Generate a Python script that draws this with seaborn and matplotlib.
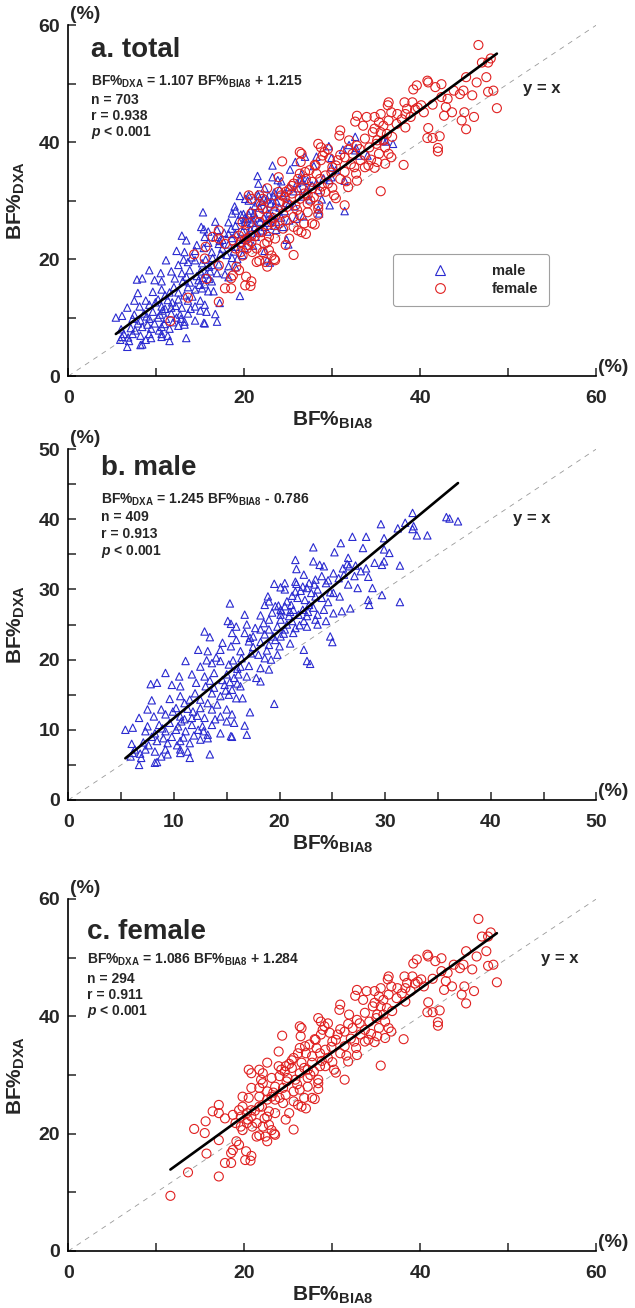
import matplotlib
matplotlib.use("Agg")
import matplotlib.pyplot as plt
import seaborn as sns
from matplotlib.lines import Line2D
from matplotlib.ticker import MultipleLocator

# male: BF% by BIA8 (x) and BF% by DXA (y)
male_bia8 = [
    32.6, 35.8, 36.1, 36.9, 31.9, 29.6, 32.7, 32.6, 33.0, 34.0, 31.2, 26.9, 28.2, 29.9, 23.2, 25.8,
    29.9, 30.4, 27.9, 25.2, 21.5, 26.5, 29.7, 29.9, 31.4, 23.2, 23.8, 24.2, 26.4, 26.6, 27.2, 28.2,
    21.6, 25.1, 22.3, 26.1, 27.1, 28.4, 24.0, 23.4, 21.5, 20.5, 19.5, 21.6, 22.8, 24.4, 26.5, 27.4,
    28.8, 29.7, 20.1, 20.5, 21.5, 22.2, 23.0, 23.6, 25.1, 25.7, 21.7, 22.4, 23.4, 18.9, 28.4, 28.5,
    31.4, 24.6, 22.8, 19.0, 15.3, 18.6, 19.6, 20.5, 21.1, 20.1, 21.3, 22.2, 23.2, 26.7, 25.9, 24.2,
    25.1, 19.3, 20.1, 20.9, 21.8, 22.6, 23.6, 16.7, 18.2, 19.0, 20.1, 21.2, 22.3, 23.4, 24.4, 15.1,
    15.4, 15.9, 16.9, 17.7, 18.2, 19.0, 19.8, 20.5, 21.5, 22.6, 23.6, 21.3, 15.5, 16.7, 17.5, 18.6,
    19.4, 20.1, 24.8, 12.9, 13.4, 14.6, 15.9, 17.1, 18.2, 19.0, 20.0, 21.0, 22.3, 25.0, 14.4, 15.4,
    16.3, 17.3, 18.0, 18.6, 19.2, 19.8, 12.3, 13.2, 11.1, 12.5, 13.6, 14.4, 15.2, 16.3, 17.1, 18.2,
    19.0, 22.6, 22.9, 9.2, 10.5, 11.7, 12.9, 13.8, 15.0, 15.7, 16.9, 17.8, 8.4, 7.8, 9.8, 10.6,
    12.1, 13.0, 13.8, 14.8, 15.5, 16.3, 18.2, 13.6, 14.4, 15.2, 15.9, 16.5, 7.9, 9.6, 10.6, 11.5,
    12.5, 13.2, 19.5, 7.5, 8.8, 10.2, 11.3, 12.5, 13.6, 15.0, 17.2, 6.7, 8.1, 9.2, 10.6, 11.7,
    12.9, 14.4, 15.5, 7.5, 8.6, 9.6, 10.7, 11.7, 12.7, 13.6, 15.0, 15.7, 16.7, 5.4, 6.1, 7.3,
    8.2, 9.2, 10.2, 11.1, 12.3, 13.2, 14.4, 15.4, 16.9, 6.0, 7.1, 8.4, 9.4, 10.6, 11.5, 12.5,
    13.2, 6.3, 7.3, 8.2, 9.2, 10.6, 11.3, 5.9, 6.1, 6.9, 8.2, 8.4, 6.7, 9.4, 10.6, 11.5,
    13.4, 15.5,
    9.8, 10.4, 11.0, 11.9, 12.2, 10.9, 9.9, 8.9, 10.3, 11.8, 12.8, 13.9, 14.1, 9.0, 7.9, 6.8,
    7.6, 8.8, 11.0, 12.0, 13.4, 14.6, 15.3, 16.0, 16.1, 14.9, 15.6, 17.5, 18.8, 19.6, 20.4, 20.7,
    21.9, 20.2, 21.0, 20.7, 21.2, 22.0, 22.6, 23.3, 24.6, 25.6, 26.0, 27.7, 29.0, 24.8, 24.0, 22.7,
    19.9, 18.5, 17.2, 16.4, 16.0, 14.0, 13.1,
]
male_dxa = [
    40.9, 40.3, 40.1, 39.7, 39.5, 39.3, 39.0, 38.6, 37.7, 37.7, 38.7, 37.5, 37.5, 37.3, 36.0, 36.6,
    35.7, 35.2, 35.9, 35.3, 34.2, 34.5, 33.5, 34.0, 33.4, 34.0, 33.5, 33.3, 33.6, 33.3, 33.4, 33.0,
    32.9, 32.3, 32.1, 32.1, 31.9, 31.8, 31.9, 31.4, 31.1, 30.9, 30.8, 30.8, 30.9, 30.9, 30.7, 30.2,
    30.2, 29.2, 30.3, 30.0, 29.7, 30.4, 29.5, 30.0, 29.5, 29.0, 28.8, 28.5, 29.0, 29.0, 28.5, 27.8,
    28.2, 28.2, 27.8, 28.3, 28.0, 27.8, 27.6, 27.6, 27.8, 27.1, 27.1, 27.1, 27.4, 27.3, 26.9, 27.1,
    26.6, 26.7, 26.4, 26.2, 26.4, 26.2, 26.4, 26.4, 26.3, 25.7, 25.7, 25.5, 25.5, 25.7, 25.5, 25.5,
    25.1, 24.7, 25.0, 24.5, 24.3, 24.3, 24.7, 24.3, 24.5, 24.7, 25.0, 23.8, 23.8, 23.8, 23.3, 23.6,
    23.3, 23.3, 23.3, 24.0, 23.2, 22.4, 22.8, 22.6, 22.5, 22.1, 21.9, 22.3, 21.4, 22.5, 21.4, 21.9,
    21.2, 20.9, 20.7, 20.2, 20.0, 20.7, 21.4, 21.2, 19.8, 19.0, 19.5, 19.8, 19.3, 19.0, 19.1, 18.8,
    18.6, 19.8, 19.4, 18.1, 17.6, 17.9, 17.6, 18.1, 17.9, 17.4, 17.6, 17.4, 16.7, 16.5, 16.4, 16.2,
    16.7, 16.2, 16.0, 16.4, 15.7, 16.2, 16.9, 15.2, 14.8, 15.0, 14.5, 14.5, 14.2, 14.4, 14.8, 14.3,
    14.3, 13.8, 13.7, 12.9, 12.9, 13.1, 13.0, 13.1, 12.9, 12.9, 12.5, 11.7, 11.9, 12.2, 11.9, 11.7,
    11.7, 11.9, 12.2, 10.5, 10.7, 11.0, 11.2, 10.7, 10.5, 10.7, 11.2, 11.0, 10.6, 10.0, 10.3, 9.8,
    9.5, 9.8, 10.0, 9.8, 10.0, 9.3, 9.5, 9.1, 9.3, 8.0, 8.2, 8.4, 8.1, 8.4, 8.1, 8.6,
    8.8, 7.2, 7.2, 6.9, 7.2, 7.2, 6.9, 6.2, 6.7, 6.0, 5.3, 5.4, 5.0, 6.5, 6.7, 6.0,
    6.5, 9.0,
    9.0, 10.5, 11.5, 9.2, 12.0, 8.9, 12.6, 10.2, 7.8, 12.6, 9.8, 11.5, 13.6, 8.8, 9.0, 6.6,
    7.8, 6.2, 13.8, 15.2, 17.0, 17.1, 16.8, 16.6, 17.9, 15.6, 19.9, 21.8, 21.3, 22.8, 23.7, 25.0,
    24.9, 26.9, 26.8, 28.3, 29.1, 29.8, 30.2, 30.7, 31.3, 31.6, 33.0, 32.6, 33.8, 29.6, 28.8, 26.8,
    27.7, 25.2, 23.1, 20.2, 18.7, 20.3, 19.9,
]

# female
female_bia8 = [
    46.6, 48.0, 47.0, 47.7, 45.2, 47.5, 46.4, 40.8, 40.9, 42.4, 39.6, 39.2, 41.7, 44.5, 43.8, 44.9,
    45.9, 47.7, 48.3, 43.1, 42.4, 41.4, 42.9, 43.6, 42.7, 45.0, 46.1, 44.7, 45.2, 48.7, 40.9, 42.2,
    40.8, 41.4, 42.0, 42.0, 36.4, 36.3, 38.2, 39.1, 40.1, 38.5, 39.4, 40.4, 36.7, 37.4, 38.3, 38.9,
    35.5, 34.8, 32.8, 33.9, 32.6, 35.3, 36.4, 37.3, 38.3, 34.8, 35.8, 34.6, 35.5, 36.2, 30.9, 30.8,
    31.9, 33.7, 35.1, 35.8, 36.0, 32.8, 30.9, 31.4, 32.3, 33.7, 35.3, 36.4, 33.2, 34.4, 35.1, 36.0,
    38.1, 34.8, 33.7, 35.5, 28.4, 28.7, 29.1, 28.9, 29.5, 28.7, 28.0, 26.3, 26.5, 26.4, 30.0, 30.4,
    31.4, 32.5, 32.7, 30.9, 31.6, 31.8, 32.8, 31.4, 30.2, 30.4, 29.2, 28.1, 27.4, 27.0, 27.7, 28.6,
    29.2, 29.5, 26.3, 26.1, 25.6, 26.5, 27.7, 28.6, 27.2, 27.9, 26.3, 25.4, 24.7, 25.1, 24.2, 23.9,
    24.0, 24.9, 25.8, 27.2, 28.4, 28.4, 28.4, 27.2, 26.3, 27.7, 28.0, 26.8, 25.6, 24.7, 25.6, 24.4,
    23.5, 22.6, 23.1, 24.0, 26.5, 27.0, 26.1, 23.9, 24.3, 22.6, 22.1, 21.7, 20.5, 20.8, 21.9, 23.1,
    21.7, 22.1, 20.8, 19.8, 20.5, 21.7, 22.6, 23.5, 24.4, 25.1, 24.7, 25.6, 23.5, 22.6, 22.8, 21.7,
    20.8, 19.8, 19.4, 20.3, 20.8, 19.6, 18.7, 17.8, 21.4, 20.3, 19.6, 19.8, 20.9, 22.1, 22.8, 23.1,
    21.7, 21.4, 22.4, 23.5, 22.6, 23.4, 17.1, 16.4, 17.1, 15.6, 14.3, 15.5, 17.1, 19.1, 19.4, 18.7,
    18.5, 20.2, 20.8, 20.1, 20.7, 17.8, 18.5, 15.7, 13.6, 17.1, 11.6,
    24.6, 25.4, 26.9, 28.2, 29.9, 30.6, 31.8, 32.1, 33.1, 34.2, 35.0, 36.8, 37.9, 39.7, 33.5, 29.7,
    27.5, 26.0, 24.8, 23.3, 22.0, 21.2, 20.4, 19.0, 22.3, 26.8, 28.8, 30.0, 34.1, 36.7,
]
female_dxa = [
    56.6, 54.3, 53.6, 53.6, 51.1, 51.1, 50.2, 50.5, 50.2, 49.9, 49.7, 49.0, 49.4, 48.2, 48.8, 48.8,
    48.0, 48.6, 48.8, 47.4, 47.7, 46.4, 46.0, 45.1, 44.5, 45.1, 44.3, 43.7, 42.2, 45.8, 42.4, 41.0,
    40.7, 40.7, 39.0, 38.4, 46.8, 46.3, 46.8, 46.8, 46.3, 45.7, 45.6, 45.1, 45.1, 44.8, 44.8, 44.3,
    44.8, 44.3, 44.5, 44.3, 43.5, 43.4, 43.7, 43.1, 42.5, 42.3, 42.8, 41.7, 41.7, 41.4, 42.0, 41.1,
    40.3, 40.6, 40.3, 40.3, 39.1, 39.4, 37.8, 37.4, 38.0, 37.7, 38.0, 38.0, 36.9, 37.0, 36.6, 36.3,
    36.1, 35.6, 35.7, 31.6, 39.7, 39.1, 38.3, 37.7, 38.8, 36.9, 36.1, 38.3, 38.0, 36.6, 35.7, 36.0,
    34.9, 35.7, 34.6, 33.7, 33.3, 32.3, 33.4, 29.2, 30.9, 30.4, 31.5, 36.0, 35.2, 33.7, 33.2, 33.7,
    34.3, 32.9, 34.6, 33.7, 32.9, 32.1, 32.1, 31.5, 30.9, 30.6, 30.3, 31.2, 31.5, 31.9, 30.9, 31.5,
    29.8, 29.5, 29.2, 29.5, 29.2, 28.6, 27.6, 28.0, 27.5, 26.1, 25.9, 26.1, 27.2, 26.6, 25.5, 27.8,
    28.0, 27.2, 26.3, 26.1, 24.6, 24.3, 24.9, 34.0, 36.7, 32.1, 30.3, 30.9, 30.9, 30.3, 29.2, 29.5,
    27.8, 28.6, 27.8, 26.3, 26.1, 26.3, 25.8, 25.8, 25.2, 23.5, 22.4, 20.7, 23.5, 22.9, 23.8, 24.6,
    24.0, 24.6, 24.0, 23.5, 22.9, 22.9, 23.2, 22.6, 21.8, 21.8, 21.2, 20.6, 21.2, 21.2, 21.5, 20.6,
    19.7, 19.5, 19.5, 19.8, 18.7, 20.0, 23.5, 23.8, 24.9, 22.1, 20.8, 20.1, 18.9, 18.7, 18.1, 17.2,
    16.7, 17.0, 16.2, 15.5, 15.4, 15.0, 15.0, 16.6, 13.4, 12.7, 9.4,
    30.6, 32.5, 34.9, 34.6, 34.8, 36.9, 38.7, 36.2, 38.8, 39.1, 39.7, 40.9, 43.9, 45.9, 42.8, 37.2,
    30.0, 28.4, 28.9, 27.0, 24.6, 23.9, 22.4, 21.8, 22.6, 31.2, 32.4, 32.2, 36.0, 37.4,
]

# fitted lines printed on the chart
fit_slope = [1.107, 1.245, 1.086]
fit_intercept = [1.215, -0.786, 1.284]
panel_titles = ["a. total", "b. male", "c. female"]
panel_n = [703, 409, 294]
panel_r = [0.938, 0.913, 0.911]
eq_texts = [
    r"BF%$_\mathbf{DXA}$ = 1.107 BF%$_\mathbf{BIA8}$ + 1.215",
    r"BF%$_\mathbf{DXA}$ = 1.245 BF%$_\mathbf{BIA8}$ - 0.786",
    r"BF%$_\mathbf{DXA}$ = 1.086 BF%$_\mathbf{BIA8}$ + 1.284",
]

BLUE = "#2a2ad0"
RED = "#e02020"

sns.set_style("white")
plt.rcParams["font.family"] = ["Liberation Sans", "DejaVu Sans"]
plt.rcParams["font.weight"] = "bold"
plt.rcParams["mathtext.fontset"] = "custom"
plt.rcParams["mathtext.rm"] = "Liberation Sans:bold"
plt.rcParams["mathtext.bf"] = "Liberation Sans:bold"
plt.rcParams["mathtext.it"] = "Liberation Sans:italic:bold"

fig = plt.figure(figsize=(6.35, 13.08), dpi=100)
ax_a = fig.add_axes([0.1076, 0.7125, 0.8315, 0.2683])
ax_b = fig.add_axes([0.1076, 0.3884, 0.8315, 0.2683])
ax_c = fig.add_axes([0.1076, 0.0436, 0.8315, 0.2691])


def draw_panel(ax, i, groups, lim, major, minor, title_x, text_y, yx_pos):
    xs_all = []
    for xs, ys, marker, color, size in groups:
        sns.scatterplot(x=xs, y=ys, marker=marker, s=size, facecolors="none",
                        edgecolor=color, linewidth=0.8, ax=ax, zorder=3)
        xs_all += xs
    # identity line
    ax.plot([0, lim], [0, lim], ls=(0, (6, 6)), color="#999999", lw=0.6, zorder=1)
    # regression line over the data range
    x0, x1 = min(xs_all), max(xs_all)
    ax.plot([x0, x1], [fit_slope[i] * x0 + fit_intercept[i], fit_slope[i] * x1 + fit_intercept[i]],
            color="black", lw=1.9, zorder=4)

    ax.set_xlim(0, lim)
    ax.set_ylim(0, lim)
    ax.xaxis.set_major_locator(MultipleLocator(major))
    ax.yaxis.set_major_locator(MultipleLocator(major))
    ax.xaxis.set_minor_locator(MultipleLocator(minor))
    ax.yaxis.set_minor_locator(MultipleLocator(minor))
    ax.tick_params(which="both", direction="in", length=6, width=1.1, top=False, right=False,
                   bottom=True, left=True)
    ax.tick_params(axis="x", which="major", labelsize=14, pad=10)
    ax.tick_params(axis="y", which="major", labelsize=14, pad=6)
    for lab in ax.get_xticklabels() + ax.get_yticklabels():
        lab.set_fontweight("bold")
    for side in ["top", "right"]:
        ax.spines[side].set_visible(False)
    for side in ["left", "bottom"]:
        ax.spines[side].set_linewidth(1.2)
        ax.spines[side].set_color("black")

    ax.set_xlabel(r"BF%$_\mathbf{BIA8}$", fontsize=15, fontweight="bold", labelpad=2)
    ax.set_ylabel(r"BF%$_\mathbf{DXA}$", fontsize=15, fontweight="bold")
    ax.yaxis.set_label_coords(-0.078, 0.5)

    ax.text(0.003, 1.005, "(%)", transform=ax.transAxes, fontsize=14, fontweight="bold",
            ha="left", va="bottom")
    ax.text(1.004, 0.0, "(%)", transform=ax.transAxes, fontsize=14, fontweight="bold",
            ha="left", va="bottom")

    ax.text(title_x, text_y[0], panel_titles[i], transform=ax.transAxes, fontsize=20,
            fontweight="bold", va="center")
    lines = [eq_texts[i], f"n = {panel_n[i]}", f"r = {panel_r[i]:.3f}", r"$\mathit{p}$ < 0.001"]
    for k, line in enumerate(lines):
        ax.text(title_x, text_y[k + 1], line, transform=ax.transAxes, fontsize=10,
                fontweight="bold", va="center")
    ax.text(yx_pos[0], yx_pos[1], "y = x", fontsize=12, fontweight="bold", va="center")


male = (male_bia8, male_dxa, "^", BLUE, 28)
female = (female_bia8, female_dxa, "o", RED, 42)

draw_panel(ax_a, 0, [male, female], 60, 20, 10, 0.042,
           [0.929, 0.838, 0.788, 0.740, 0.693], (51.7, 49.2))
draw_panel(ax_b, 1, [male], 50, 10, 5, 0.061,
           [0.946, 0.856, 0.805, 0.757, 0.709], (42.1, 40.1))
draw_panel(ax_c, 2, [female], 60, 20, 10, 0.035,
           [0.905, 0.828, 0.774, 0.727, 0.679], (53.7, 49.9))

handles = [
    Line2D([], [], marker="^", ls="", mfc="none", mec=BLUE, ms=6.5, mew=0.8),
    Line2D([], [], marker="o", ls="", mfc="none", mec=RED, ms=7, mew=0.8),
]
leg = ax_a.legend(handles, ["male", "female"], loc="lower left", bbox_to_anchor=(0.615, 0.2),
                  borderaxespad=0, frameon=True, fancybox=True, edgecolor="#888888",
                  prop={"weight": "bold", "size": 10.5}, borderpad=0.7, labelspacing=0.25,
                  handlelength=5, handletextpad=1.1)
leg.get_frame().set_linewidth(0.8)

fig.savefig("out.png", dpi=100)
